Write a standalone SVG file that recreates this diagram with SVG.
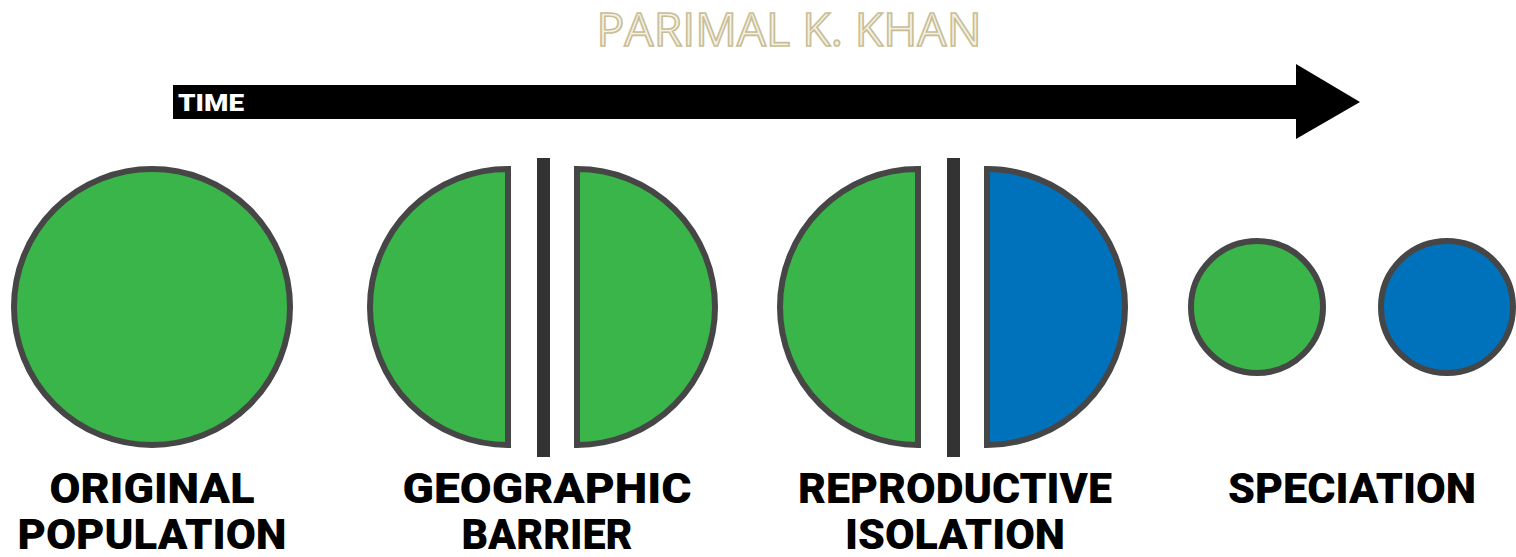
<svg xmlns="http://www.w3.org/2000/svg" width="1516" height="557" viewBox="0 0 1516 557">
<style>
.pop{stroke:#464646;stroke-width:6;}
.g{fill:#3ab54a;}
.b{fill:#0072bc;}
.bar{fill:#333333;}
.lbl{font-family:Roboto,"Liberation Sans",sans-serif;font-weight:900;font-size:42px;fill:#000;text-anchor:middle;}
</style>
<rect width="1516" height="557" fill="#ffffff"/>
<text x="789" y="46" font-family="'Open Sans','Liberation Sans',sans-serif" font-size="45" fill="#f4f0e2" stroke="#c8be96" stroke-width="1.6" text-anchor="middle" textLength="385" lengthAdjust="spacingAndGlyphs">PARIMAL K. KHAN</text>
<g id="time-arrow">
<polygon points="173,85 1296,85 1296,64 1360,102 1296,139 1296,119 173,119" fill="#000"/>
<text x="178" y="111" font-family="Roboto,'Liberation Sans',sans-serif" font-weight="900" font-size="23" fill="#fff" textLength="66" lengthAdjust="spacingAndGlyphs">TIME</text>
</g>
<g id="original-population">
<circle cx="152" cy="307" r="138" class="pop g"/>
<text class="lbl" x="152" y="503" textLength="205" lengthAdjust="spacingAndGlyphs">ORIGINAL</text>
<text class="lbl" x="152" y="549" textLength="269" lengthAdjust="spacingAndGlyphs">POPULATION</text>
</g>
<g id="geographic-barrier">
<path d="M508,169 A138,138 0 0 0 508,445 Z" class="pop g"/>
<rect x="537" y="158" width="13" height="299" class="bar"/>
<path d="M577,169 A138,138 0 0 1 577,445 Z" class="pop g"/>
<text class="lbl" x="547" y="503" textLength="289" lengthAdjust="spacingAndGlyphs">GEOGRAPHIC</text>
<text class="lbl" x="547" y="549" textLength="171" lengthAdjust="spacingAndGlyphs">BARRIER</text>
</g>
<g id="reproductive-isolation">
<path d="M918,169 A138,138 0 0 0 918,445 Z" class="pop g"/>
<rect x="947" y="158" width="13" height="299" class="bar"/>
<path d="M987,169 A138,138 0 0 1 987,445 Z" class="pop b"/>
<text class="lbl" x="955" y="503" textLength="314" lengthAdjust="spacingAndGlyphs">REPRODUCTIVE</text>
<text class="lbl" x="955" y="549" textLength="220" lengthAdjust="spacingAndGlyphs">ISOLATION</text>
</g>
<g id="speciation">
<circle cx="1257" cy="307" r="66" class="pop g"/>
<circle cx="1447" cy="307" r="66" class="pop b"/>
<text class="lbl" x="1352" y="503" textLength="248" lengthAdjust="spacingAndGlyphs">SPECIATION</text>
</g>
<g id="connectors"></g>
</svg>
